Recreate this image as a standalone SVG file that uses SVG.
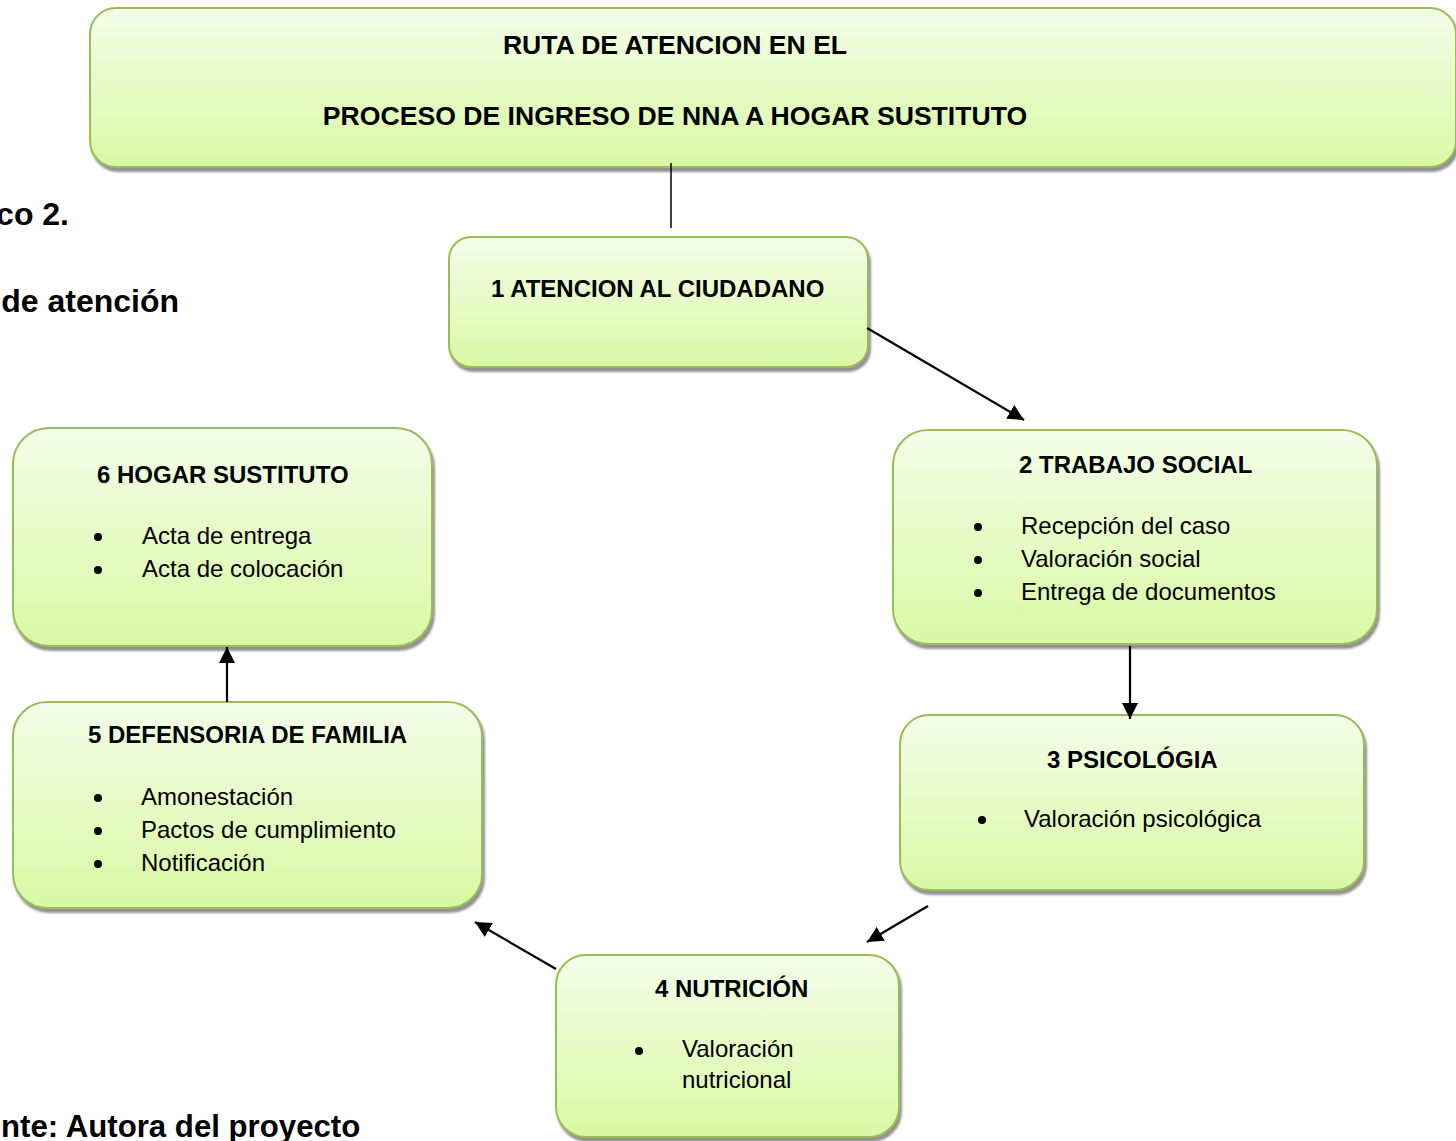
<svg xmlns="http://www.w3.org/2000/svg" width="1456" height="1141" viewBox="0 0 1456 1141">
<defs>
<linearGradient id="g" x1="0" y1="0" x2="0" y2="1">
<stop offset="0" stop-color="#f4fde9"/>
<stop offset="1" stop-color="#d9f9a4"/>
</linearGradient>
<filter id="sh" x="-5%" y="-5%" width="115%" height="120%">
<feDropShadow dx="2" dy="4" stdDeviation="1" flood-color="#7f7f7f" flood-opacity="0.85"/>
</filter>
<marker id="ah" markerUnits="userSpaceOnUse" markerWidth="17" markerHeight="17" refX="16" refY="8" orient="auto">
<path d="M0,0 L16,8 L0,16 z" fill="#000"/>
</marker>
<style>
.box{fill:url(#g);stroke:#9bbb59;stroke-width:2;filter:url(#sh)}
.t{font-family:"Liberation Sans",Arial,sans-serif;font-weight:bold;font-size:24px;fill:#000}
.b{font-family:"Liberation Sans",Arial,sans-serif;font-size:24px;fill:#000}
.h{font-family:"Liberation Sans",Arial,sans-serif;font-weight:bold;font-size:26.6px;fill:#000}
.s{font-family:"Liberation Sans",Arial,sans-serif;font-weight:bold;font-size:32px;fill:#000}
.c{stroke:#000;stroke-width:2.2;fill:none}
</style>
</defs>
<rect width="1456" height="1141" fill="#fff"/>

<g id="side-text">
<text class="s" x="69" y="225" text-anchor="end">co 2.</text>
<text class="s" x="179" y="312" text-anchor="end">de atención</text>
<text class="s" x="1" y="1137" style="font-size:31.2px">nte: Autora del proyecto</text>
</g>

<g id="title">
<rect class="box" x="90" y="8" width="1366" height="159" rx="26" ry="26"/>
<text class="h" x="675" y="54" text-anchor="middle">RUTA DE ATENCION EN EL</text>
<text class="h" x="675" y="125" text-anchor="middle">PROCESO DE INGRESO DE NNA A HOGAR SUSTITUTO</text>
</g>

<g id="n1">
<rect class="box" x="449" y="237" width="419" height="130" rx="22" ry="22"/>
<text class="t" x="491" y="297">1 ATENCION AL CIUDADANO</text>
</g>

<g id="n2">
<rect class="box" x="893" y="430" width="484" height="214" rx="35" ry="35"/>
<text class="t" x="1019" y="473">2 TRABAJO SOCIAL</text>
<circle cx="978" cy="527" r="4"/>
<circle cx="978" cy="560" r="4"/>
<circle cx="978" cy="593" r="4"/>
<text class="b" x="1021" y="534">Recepción del caso</text>
<text class="b" x="1021" y="567">Valoración social</text>
<text class="b" x="1021" y="600">Entrega de documentos</text>
</g>

<g id="n3">
<rect class="box" x="900" y="715" width="464" height="175" rx="29" ry="29"/>
<text class="t" x="1047" y="768">3 PSICOLÓGIA</text>
<circle cx="982" cy="820" r="4"/>
<text class="b" x="1024" y="827">Valoración psicológica</text>
</g>

<g id="n4">
<rect class="box" x="556" y="955" width="343" height="182" rx="30" ry="30"/>
<text class="t" x="655" y="997">4 NUTRICIÓN</text>
<circle cx="639" cy="1051" r="4"/>
<text class="b" x="682" y="1057">Valoración</text>
<text class="b" x="682" y="1088">nutricional</text>
</g>

<g id="n5">
<rect class="box" x="13" y="702" width="469" height="206" rx="34" ry="34"/>
<text class="t" x="88" y="743">5 DEFENSORIA DE FAMILIA</text>
<circle cx="98" cy="798" r="4"/>
<circle cx="98" cy="831" r="4"/>
<circle cx="98" cy="864" r="4"/>
<text class="b" x="141" y="805">Amonestación</text>
<text class="b" x="141" y="838">Pactos de cumplimiento</text>
<text class="b" x="141" y="871">Notificación</text>
</g>

<g id="n6">
<rect class="box" x="13" y="428" width="419" height="218" rx="36" ry="36"/>
<text class="t" x="97" y="483">6 HOGAR SUSTITUTO</text>
<circle cx="98" cy="537" r="4"/>
<circle cx="98" cy="570" r="4"/>
<text class="b" x="142" y="544">Acta de entrega</text>
<text class="b" x="142" y="577">Acta de colocación</text>
</g>

<g id="connectors">
<line x1="671" y1="163" x2="671" y2="228" stroke="#000" stroke-width="1.5"/>
<line class="c" x1="867" y1="328" x2="1024" y2="420" marker-end="url(#ah)"/>
<line class="c" x1="1130" y1="646" x2="1130" y2="719" marker-end="url(#ah)"/>
<line class="c" x1="928" y1="906" x2="867" y2="942" marker-end="url(#ah)"/>
<line class="c" x1="556" y1="969" x2="475" y2="922" marker-end="url(#ah)"/>
<line class="c" x1="227" y1="702" x2="227" y2="647" marker-end="url(#ah)"/>
</g>
</svg>
